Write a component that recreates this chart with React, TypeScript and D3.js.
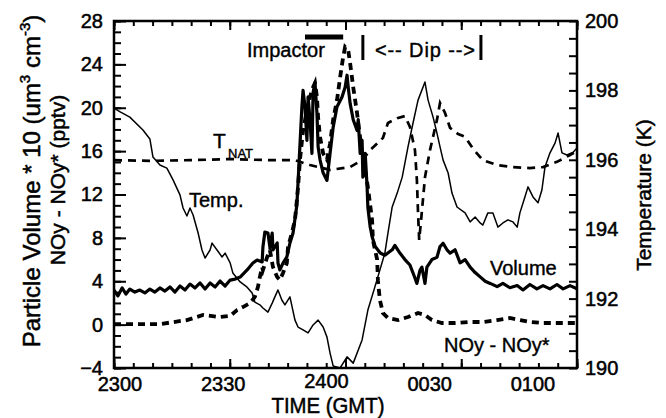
import React, { useEffect, useRef } from "react";
import * as d3 from "d3";

// time in minutes after 2300 GMT
const timeTicks = [0, 30, 60, 90, 120];
const timeLabels = ["2300", "2330", "2400", "0030", "0100"];
const leftTicks = [-4, 0, 4, 8, 12, 16, 20, 24, 28];
const rightTicks = [190, 192, 194, 196, 198, 200];

// temperature (K), right axis
const temperature: [number, number][] = [
  [0, 197.49], [1.6, 197.38], [4.1, 197.23], [7.5, 196.86], [9.3, 196.6], [10.1, 196.08],
  [11.9, 195.85], [13.7, 195.76], [15.3, 195.42], [17.1, 194.99], [17.9, 194.61], [18.9, 194.38],
  [19.7, 194.61], [20.5, 194.41], [21.8, 193.89], [22.8, 193.4], [23.6, 193.17], [24.9, 193.4],
  [25.4, 193.6], [26.7, 193.4], [28.0, 193.2], [28.8, 193.31], [30.1, 193.03], [30.8, 192.74],
  [32.7, 192.48], [34.5, 192.33], [35.8, 192.16], [36.5, 191.9], [37.8, 191.82], [38.6, 191.73],
  [39.9, 191.61], [41.0, 191.87], [41.7, 192.05], [42.5, 192.25], [43.5, 191.96], [44.3, 191.82],
  [45.6, 192.05], [46.9, 191.38], [47.7, 191.18], [49.0, 191.1], [50.3, 191.01], [51.6, 191.24],
  [52.9, 191.38], [54.2, 191.18], [55.2, 190.89], [56.0, 190.43], [56.8, 190.06], [58.6, 190.0],
  [59.9, 190.23], [60.4, 190.32], [62.0, 190.14], [64.3, 190.81], [65.8, 191.67], [67.6, 192.33],
  [70.2, 193.31], [71.0, 193.89], [72.1, 194.64], [73.4, 195.04], [74.7, 195.5], [76.2, 196.37],
  [77.5, 197.06], [78.8, 197.72], [80.6, 198.24], [81.4, 197.72], [82.7, 197.23], [83.7, 196.77],
  [84.5, 196.37], [85.3, 195.99], [86.6, 195.62], [87.6, 195.04], [88.9, 194.64], [91.0, 194.47],
  [92.3, 194.21], [93.6, 194.35], [94.9, 194.18], [95.6, 194.12], [96.9, 194.47], [98.2, 194.47],
  [99.5, 194.06], [100.8, 194.18], [102.1, 194.27], [103.4, 194.21], [104.5, 194.06], [105.2, 194.47],
  [106.5, 194.93], [107.3, 195.22], [108.6, 194.93], [109.9, 194.76], [110.9, 195.13], [111.7, 195.79],
  [113.0, 196.2], [114.3, 196.48], [115.1, 196.77], [116.1, 196.2], [117.4, 196.14], [119.0, 196.22],
  [120, 196.34],
];

// T_NAT (K), right axis
const tNat: [number, number][] = [
  [0, 195.99], [9.3, 195.97], [19.7, 195.99], [30.1, 196.02], [40.4, 195.99], [46.9, 195.99],
  [50.8, 195.85], [56.0, 195.71], [61.2, 195.79], [64.3, 195.99], [66.4, 196.28], [69.7, 196.63],
  [71.0, 197.06], [73.4, 197.2], [75.4, 197.26], [76.7, 196.95], [78.0, 196.28], [78.5, 195.42],
  [78.8, 194.47], [79.1, 193.69], [79.6, 194.27], [80.6, 195.5], [81.9, 196.28], [83.7, 197.15],
  [84.5, 197.64], [85.8, 197.35], [87.1, 196.92], [89.2, 196.74], [91.0, 196.66], [93.1, 196.31],
  [95.6, 195.99], [99.3, 195.85], [103.4, 195.79], [107.8, 195.76], [111.2, 195.79], [114.8, 195.94],
  [118.2, 196.14], [120, 196.25],
];

// particle volume * 10, left axis
const volume: [number, number][] = [
  [0, 3.19], [1.0, 2.64], [2.1, 3.38], [3.1, 2.82], [4.1, 3.28], [5.4, 3.0], [6.7, 3.19], [8.0, 2.92],
  [9.3, 3.28], [10.6, 3.0], [11.9, 3.38], [13.2, 3.1], [14.5, 3.47], [15.8, 3.0], [17.1, 3.56],
  [18.4, 3.19], [19.7, 3.74], [21.0, 3.38], [22.3, 3.84], [23.6, 3.28], [24.9, 3.84], [26.2, 3.47],
  [27.5, 4.02], [28.8, 3.56], [30.1, 4.11], [31.4, 4.2], [32.7, 4.39], [34.5, 5.04], [36.0, 5.68],
  [37.1, 5.96], [38.4, 5.78], [38.6, 7.16], [39.1, 8.54], [39.9, 8.45], [40.4, 7.16], [41.0, 8.45],
  [41.2, 6.88], [42.3, 7.53], [42.5, 5.68], [43.0, 5.04], [43.8, 5.68], [44.8, 6.24], [45.6, 7.53],
  [46.4, 8.45], [47.4, 11.04], [48.0, 15.2], [48.7, 20.1], [49.0, 21.6], [49.5, 20.1], [50.0, 17.0],
  [50.3, 21.0], [50.8, 18.9], [51.3, 15.8], [51.6, 21.4], [52.1, 22.3], [52.6, 19.5], [52.9, 16.4],
  [53.4, 15.2], [54.2, 14.0], [55.2, 13.3], [56.0, 15.8], [56.8, 18.2], [57.8, 20.1], [59.1, 21.0],
  [59.9, 21.9], [60.4, 23.0], [60.7, 21.9], [61.2, 20.4], [62.0, 18.9], [63.0, 17.9], [63.3, 18.9],
  [63.8, 15.8], [64.3, 17.0], [64.5, 13.6], [65.1, 15.8], [65.6, 12.7], [65.8, 10.8], [66.4, 9.0],
  [66.9, 8.1], [67.7, 7.2], [69.0, 6.6], [70.2, 6.4], [72.1, 6.9], [72.8, 7.3], [74.1, 6.6],
  [75.4, 6.0], [76.7, 5.5], [78.0, 4.3], [78.5, 3.8], [79.3, 5.0], [79.8, 5.3], [80.6, 3.8],
  [81.1, 5.3], [82.4, 6.0], [83.7, 6.2], [84.5, 7.2], [85.3, 7.5], [86.3, 6.9], [87.1, 6.6],
  [88.4, 6.9], [89.7, 5.7], [91.0, 6.0], [92.3, 5.3], [93.6, 4.8], [94.9, 4.4], [96.2, 4.0],
  [97.5, 3.8], [99.3, 3.5], [100.8, 3.8], [102.6, 3.4], [104.5, 3.6], [106.0, 3.2], [107.8, 3.7],
  [109.6, 3.3], [111.2, 3.6], [113.0, 3.3], [114.8, 3.7], [116.4, 3.3], [118.2, 3.6], [120, 3.3],
];

// NOy - NOy* (pptv), left axis
const noyDiff: [number, number][] = [
  [0, 0.05], [11.9, 0.05], [18.9, 0.42], [23.1, 0.89], [27.5, 0.7], [30.1, 0.8], [31.9, 1.35],
  [33.4, 1.62], [35.3, 1.99], [36.5, 2.55], [37.3, 3.47], [37.8, 4.39], [38.4, 5.31], [38.6, 5.04],
  [39.7, 6.24], [40.4, 6.88], [41.2, 5.31], [42.3, 4.39], [43.0, 4.11], [43.8, 4.76], [44.8, 5.68],
  [45.1, 7.16], [46.1, 8.45], [46.9, 9.65], [47.4, 11.5], [47.7, 12.7], [48.2, 15.2], [49.0, 17.9],
  [50.0, 19.8], [50.8, 21.0], [51.6, 21.9], [52.1, 22.3], [52.6, 21.0], [52.9, 19.1], [53.4, 17.3],
  [54.2, 15.8], [55.2, 15.2], [56.0, 16.7], [56.8, 18.9], [57.8, 20.7], [58.6, 22.8], [59.4, 24.7],
  [59.9, 25.6], [60.7, 25.3], [61.2, 24.1], [62.0, 21.9], [63.0, 19.5], [64.3, 15.8], [65.8, 12.7],
  [66.9, 9.6], [67.1, 7.8], [68.2, 6.0], [68.4, 4.1], [68.9, 2.3], [69.7, 1.07], [71.0, 0.61],
  [73.6, 0.42], [76.2, 0.7], [78.8, 1.07], [80.6, 0.89], [82.4, 0.42], [85.0, 0.15], [88.4, 0.15],
  [91.8, 0.24], [95.6, 0.24], [99.3, 0.42], [102.6, 0.61], [105.3, 0.42], [107.8, 0.24],
  [111.2, 0.15], [114.8, 0.15], [120, 0.15],
];

const impactor = [49.5, 59.4];
const dip = [64.5, 95.1];

const FONT = "'Liberation Sans', Arial, Helvetica, sans-serif";

export default function App() {
  const svgRef = useRef<SVGSVGElement>(null);
  const width = 666;
  const height = 418;
  const marginLeft = 114;
  const marginRight = 89;
  const marginTop = 21;
  const marginBottom = 50;

  useEffect(() => {
    const svg = d3.select(svgRef.current);
    svg.selectAll("*").remove();

    const x0 = marginLeft;
    const x1 = width - marginRight;
    const y0 = marginTop;
    const y1 = height - marginBottom;

    const x = d3.scaleLinear().domain([0, 120]).range([x0, x1]);
    const yLeft = d3.scaleLinear().domain([-4, 28]).range([y1, y0]);
    const yRight = d3.scaleLinear().domain([190, 200]).range([y1, y0]);
    // the printed time labels sit a bit left of their ticks
    const xLabel = d3.scaleLinear().domain([0, 120]).range([120, 533]);

    svg.append("defs").append("clipPath").attr("id", "plotclip")
      .append("rect").attr("x", x0).attr("y", y0).attr("width", x1 - x0).attr("height", y1 - y0);

    // ticks, all pointing inwards
    const axisStyle = (g: any) => {
      g.select(".domain").remove();
      g.selectAll(".tick line").attr("stroke", "#000").attr("stroke-width", 2);
      g.selectAll("text").attr("font-family", FONT).attr("font-size", 20).attr("fill", "#000")
        .attr("stroke", "#000").attr("stroke-width", 0.5);
    };

    svg.append("g").attr("transform", `translate(${x0},0)`)
      .call(d3.axisLeft(yLeft).tickValues(d3.range(-4, 29, 1)).tickSize(-7).tickFormat(() => ""))
      .call(axisStyle);
    svg.append("g").attr("transform", `translate(${x0},0)`)
      .call(d3.axisLeft(yLeft).tickValues(leftTicks).tickSize(-12).tickPadding(11).tickFormat(d3.format("d")))
      .call(axisStyle);

    svg.append("g").attr("transform", `translate(${x1},0)`)
      .call(d3.axisRight(yRight).tickValues(d3.range(190, 200.01, 0.5)).tickSize(-8).tickFormat(() => ""))
      .call(axisStyle);
    svg.append("g").attr("transform", `translate(${x1},0)`)
      .call(d3.axisRight(yRight).tickValues(rightTicks).tickSize(0).tickPadding(8).tickFormat(d3.format("d")))
      .call(axisStyle);

    svg.append("g").attr("transform", `translate(0,${y1})`)
      .call(d3.axisBottom(x).tickValues(d3.range(0, 121, 5)).tickSize(-5).tickFormat(() => ""))
      .call(axisStyle);
    svg.append("g").attr("transform", `translate(0,${y1})`)
      .call(d3.axisBottom(x).tickValues(timeTicks).tickSize(-9).tickFormat(() => ""))
      .call(axisStyle);
    svg.append("g").attr("transform", `translate(0,${y0})`)
      .call(d3.axisTop(x).tickValues(d3.range(0, 121, 5)).tickSize(-5).tickFormat(() => ""))
      .call(axisStyle);
    svg.append("g").attr("transform", `translate(0,${y0})`)
      .call(d3.axisTop(x).tickValues(timeTicks).tickSize(-9).tickFormat(() => ""))
      .call(axisStyle);

    svg.append("g").selectAll("text").data(timeTicks).join("text")
      .attr("x", (d) => xLabel(d)).attr("y", (d) => (d === 60 ? y1 + 20 : y1 + 23))
      .attr("text-anchor", "middle").attr("font-family", FONT).attr("font-size", 20)
      .attr("stroke", "#000").attr("stroke-width", 0.5)
      .text((d, i) => timeLabels[i]);

    const plot = svg.append("g").attr("clip-path", "url(#plotclip)");
    const lineL = d3.line<[number, number]>().x((d) => x(d[0])).y((d) => yLeft(d[1]));
    const lineR = d3.line<[number, number]>().x((d) => x(d[0])).y((d) => yRight(d[1]));

    plot.append("path").datum(temperature).attr("d", lineR).attr("fill", "none")
      .attr("stroke", "#000").attr("stroke-width", 1.5).attr("stroke-linejoin", "round");
    plot.append("path").datum(tNat).attr("d", lineR).attr("fill", "none")
      .attr("stroke", "#000").attr("stroke-width", 2.7).attr("stroke-dasharray", "8 6");
    plot.append("path").datum(volume).attr("d", lineL).attr("fill", "none")
      .attr("stroke", "#000").attr("stroke-width", 3.2).attr("stroke-linejoin", "round");
    plot.append("path").datum(noyDiff).attr("d", lineL).attr("fill", "none")
      .attr("stroke", "#000").attr("stroke-width", 3.8).attr("stroke-dasharray", "7 5");

    // frame
    svg.append("rect").attr("x", x0).attr("y", y0).attr("width", x1 - x0).attr("height", y1 - y0)
      .attr("fill", "none").attr("stroke", "#000").attr("stroke-width", 2.5);

    // annotations
    svg.append("line").attr("x1", x(impactor[0])).attr("x2", x(impactor[1]))
      .attr("y1", 37).attr("y2", 37).attr("stroke", "#000").attr("stroke-width", 5);
    svg.selectAll("line.dip").data(dip).join("line").attr("class", "dip")
      .attr("x1", (d) => x(d)).attr("x2", (d) => x(d)).attr("y1", 35).attr("y2", 60)
      .attr("stroke", "#000").attr("stroke-width", 3);

    const label = (tx: number, ty: number, s: string, size = 20) =>
      svg.append("text").attr("x", tx).attr("y", ty).attr("font-family", FONT)
        .attr("font-size", size).attr("fill", "#000")
        .attr("stroke", "#000").attr("stroke-width", 0.4).text(s);

    label(247, 57, "Impactor");
    label(375, 57, "<-- Dip -->").attr("textLength", 100).attr("lengthAdjust", "spacing");
    label(213, 148, "T", 21);
    label(228, 158, "NAT", 13);
    label(189, 207, "Temp.");
    label(490, 275, "Volume");
    label(444, 352, "NOy - NOy*");

    svg.append("text").attr("x", 328).attr("y", 413).attr("text-anchor", "middle")
      .attr("font-family", FONT).attr("font-size", 22)
      .attr("stroke", "#000").attr("stroke-width", 0.5)
      .attr("textLength", 113).attr("lengthAdjust", "spacingAndGlyphs").text("TIME (GMT)");

    const t1 = svg.append("text").attr("transform", "translate(40,181) rotate(-90)")
      .attr("text-anchor", "middle").attr("font-family", FONT).attr("font-size", 24)
      .attr("stroke", "#000").attr("stroke-width", 0.5);
    t1.append("tspan").text("Particle Volume * 10 (um");
    t1.append("tspan").attr("font-size", 15).attr("dy", -10).text("3");
    t1.append("tspan").attr("dy", 10).text(" cm");
    t1.append("tspan").attr("font-size", 15).attr("dy", -10).text("-3");
    t1.append("tspan").attr("dy", 10).text(")");

    svg.append("text").attr("transform", "translate(65,180) rotate(-90)")
      .attr("text-anchor", "middle").attr("font-family", FONT).attr("font-size", 21)
      .attr("stroke", "#000").attr("stroke-width", 0.5)
      .text("NOy - NOy* (pptv)");

    svg.append("text").attr("transform", "translate(651,195) rotate(-90)")
      .attr("text-anchor", "middle").attr("font-family", FONT).attr("font-size", 21)
      .attr("stroke", "#000").attr("stroke-width", 0.5)
      .text("Temperature (K)");
  }, []);

  return (
    <svg ref={svgRef} width={width} height={height}
      style={{ position: "absolute", left: 0, top: 0, background: "#fff" }} />
  );
}
